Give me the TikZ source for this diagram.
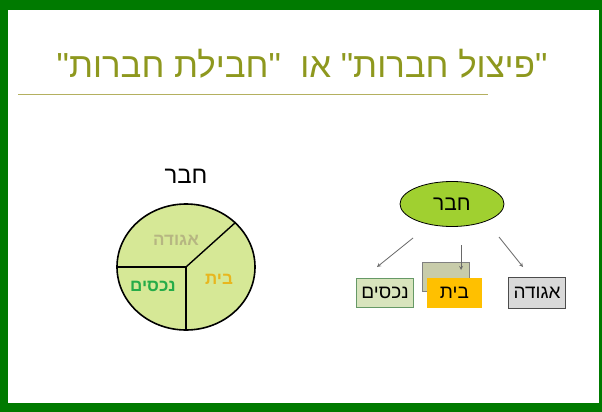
\documentclass[tikz,border=0pt]{standalone}
\usepackage{fontspec}
\setmainfont{Liberation Sans}
\newfontfamily\hebfont[Script=Hebrew]{Liberation Sans}
\TeXXeTstate=1
\usetikzlibrary{shapes.geometric}
\definecolor{framegreen}{RGB}{0,122,0}
\definecolor{titleolive}{RGB}{142,152,30}
\definecolor{ruleolive}{RGB}{180,176,96}
\definecolor{piefill}{RGB}{214,232,150}
\definecolor{hubfill}{RGB}{160,208,48}
\definecolor{agudacol}{RGB}{182,182,130}
\definecolor{baitcol}{RGB}{232,182,30}
\definecolor{nechcol}{RGB}{38,172,72}
\definecolor{nechfill}{RGB}{216,228,189}
\definecolor{grayboxfill}{RGB}{200,204,170}
\definecolor{orangefill}{RGB}{255,192,0}
\definecolor{agudafill}{RGB}{217,217,217}
\definecolor{arrgray}{RGB}{105,105,105}
\tikzset{
  heb/.style={font=\hebfont},
  boxnode/.style={draw, line width=0.8pt, inner sep=0pt, minimum height=29pt, font=\hebfont\fontsize{19}{19}\selectfont},
  arr/.style={draw=arrgray, line width=0.8pt, -stealth},
  pielabel/.style={font=\hebfont\bfseries\fontsize{17}{17}\selectfont}
}
\begin{document}
\begin{tikzpicture}[x=1pt,y=-1pt]
\useasboundingbox (0,0) rectangle (602,412);
\fill[framegreen] (0,0) rectangle (602,412);
\fill[white] (8,10) rectangle (599,403);
% title
\node[text=titleolive, font=\hebfont\fontsize{34.8}{34.8}\selectfont] (title) at (302,64) {\beginR"פיצול חברות" או \ "חבילת חברות"\endR};
\draw[ruleolive, line width=1pt] (18,94) -- (488,94);
% pie
\node[font=\hebfont\fontsize{24}{24}\selectfont] (pietitle) at (186,176) {\beginR חבר\endR};
\node[ellipse, draw, line width=1.6pt, fill=piefill, minimum width=138pt, minimum height=126pt, inner sep=0pt] (pie) at (186,267) {};
\draw[line width=1.4pt] (pie.center) -- (pie.west);
\draw[line width=1.4pt] (pie.center) -- (pie.south);
\draw[line width=1.4pt] (pie.center) -- (pie.42);
\node[pielabel, text=agudacol] (laguda) at (176,240) {\beginR אגודה\endR};
\node[pielabel, text=baitcol] (lbait) at (219,279) {\beginR בית\endR};
\node[pielabel, text=nechcol] (lnech) at (153,286) {\beginR נכסים\endR};
% right diagram
\node[ellipse, draw, line width=0.8pt, fill=hubfill, minimum width=104pt, minimum height=45pt, inner sep=0pt, font=\hebfont\fontsize{21}{21}\selectfont] (hub) at (452,204) {\beginR חבר\endR};
\node[boxnode, draw=gray, fill=grayboxfill, minimum width=47pt] (back) at (445.5,276.5) {};
\node[boxnode, draw=gray!80!green, fill=nechfill, minimum width=57pt] (nech) at (385,292.5) {\beginR נכסים\endR};
\node[boxnode, draw=none, fill=orangefill, minimum width=55pt, minimum height=30pt] (bait) at (454.5,292.5) {\beginR בית\endR};
\node[boxnode, draw=black!70, fill=agudafill, minimum width=57pt, minimum height=31pt] (aguda) at (537,293) {\beginR אגודה\endR};
\coordinate (a1s) at (413,238); \coordinate (a1e) at (377,267);
\coordinate (a2s) at (461,245); \coordinate (a2e) at (461,270);
\coordinate (a3s) at (499,237); \coordinate (a3e) at (523,267);
\draw[arr] (a1s) -- (a1e);
\draw[arr] (a2s) -- (a2e);
\draw[arr] (a3s) -- (a3e);
\end{tikzpicture}
\end{document}
